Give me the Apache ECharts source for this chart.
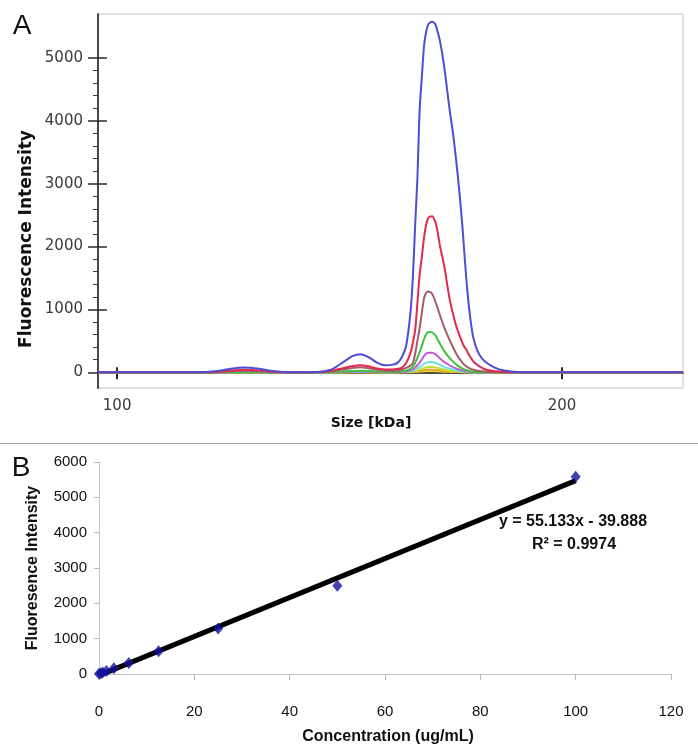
<!DOCTYPE html>
<html><head><meta charset="utf-8">
<script src="https://cdn.jsdelivr.net/npm/echarts@6/dist/echarts.min.js"></script>
<style>html,body{margin:0;padding:0;background:#fff}#c{width:698px;height:748px}</style>
</head><body><div id="c"></div>
<script>
// ---------- Panel A: electropherogram traces ----------
const sizes = [95.7,118,122,125,128.5,132,135,139,145,148,151,153,154.7,156.5,158.5,160.3,162,163,164,165,166,166.5,167,167.5,168,168.5,169,169.5,170,170.8,171.5,172,172.6,173.5,174.7,175.5,176.2,177,177.6,178,178.5,179,179.5,180.1,181,182,183.2,185,187,190,195,227.2];
const traceBlue    = [0,0,15,50,75,55,20,0,5,40,170,260,287,240,150,111,122,150,240,430,1000,1550,2350,3100,4170,4700,5200,5430,5540,5578,5540,5430,5260,4870,4200,3800,3380,2820,2330,1950,1480,1100,800,540,340,220,143,70,30,5,0,0];
const traceRed     = [0,0,5,25,40,30,10,0,3,20,70,100,110,95,60,45,45,55,70,150,320,480,680,1100,1550,1840,2150,2360,2460,2484,2400,2250,2000,1700,1180,930,740,580,470,410,360,290,230,170,115,70,35,15,5,0,0,0];
const traceBrown   = [0,0,3,15,25,15,5,0,2,15,50,70,80,65,40,25,25,30,45,70,110,150,300,500,700,950,1180,1270,1285,1250,1130,1030,900,720,520,400,300,210,155,125,95,70,55,40,25,15,8,3,0,0,0,0];
const traceGreen   = [0,0,0,5,8,5,0,0,0,5,15,22,25,20,12,8,8,10,15,25,60,90,150,230,320,420,530,610,640,635,590,530,450,340,230,170,125,85,60,45,32,22,15,10,5,2,0,0,0,0,0,0];
const traceMagenta = [0,0,0,2,4,2,0,0,0,2,8,11,12,10,6,4,4,5,8,13,30,45,75,112,155,205,260,298,312,310,288,258,220,165,112,83,61,42,30,22,16,11,7,5,2,1,0,0,0,0,0,0];
const traceCyan    = [0,0,0,0,2,0,0,0,0,1,4,5,6,5,3,2,2,3,4,7,15,24,40,60,82,108,136,157,164,163,151,136,116,87,59,44,32,22,16,12,8,6,4,2,1,0,0,0,0,0,0,0];
const traceLime    = [0,0,0,0,0,0,0,0,0,0,2,3,3,2,1,1,1,2,3,5,8,12,20,31,42,56,70,81,85,84,78,70,60,45,30,23,17,11,8,6,4,3,2,1,0,0,0,0,0,0,0,0];
const traceOrange  = [0,0,0,0,0,0,0,0,0,0,1,1,2,1,1,0,0,1,2,3,4,6,10,15,21,28,35,40,42,41,38,34,29,22,15,11,8,5,4,3,2,1,0,0,0,0,0,0,0,0,0,0];
const traceYellow  = [0,0,0,0,0,0,0,0,0,0,0,1,1,1,0,0,0,0,1,1,2,3,5,7,10,13,17,19,20,20,18,16,14,10,7,5,4,3,2,1,1,0,0,0,0,0,0,0,0,0,0,0];
const traceNames   = ['Yellow','Orange','Lime','Cyan','Magenta','Green','Brown','Red','Blue'];
const traceColors  = ['#e6dc2a','#e8a42c','#bfe03a','#70e2e2','#c45ad8','#3fc23f','#a35d6a','#e02a50','#4d4dd6'];
const traceValues  = [traceYellow,traceOrange,traceLime,traceCyan,traceMagenta,traceGreen,traceBrown,traceRed,traceBlue];
const aYMajor = [0,1000,2000,3000,4000,5000];
const aYMinor = [200,400,600,800,1200,1400,1600,1800,2200,2400,2600,2800,3200,3400,3600,3800,4200,4400,4600,4800];
const aXTicks = [100,200];

// ---------- Panel B: calibration ----------
const concentrations = [0,0.39,0.78,1.5625,3.125,6.25,12.5,25,50,100];
const intensities    = [5,20,42,85,165,313,642,1290,2500,5580];
const fitSlope = 55.133, fitIntercept = -39.888;
const fitRange = [0.8,100];
const bXTicks = [0,20,40,60,80,100,120];
const bYTicks = [0,1000,2000,3000,4000,5000,6000];

const chart = echarts.init(document.getElementById('c'), null, {renderer:'canvas'});
const fontA = 'DejaVu Sans', fontB = 'Liberation Sans, Arial';
const xMinA = 95.7, xMaxA = 227.2, yMinA = -250, yMaxA = 5700;
const plain = v => String(v);

const series = traceValues.map((vals, k) => ({
  type:'line', name: traceNames[k], xAxisIndex:0, yAxisIndex:0,
  data: sizes.map((s,i)=>[s, vals[i]]),
  smooth:0.3, symbol:'none', lineStyle:{color:traceColors[k], width:2}, z: 2+k, animation:false
}));
series.push({
  type:'line', xAxisIndex:2, yAxisIndex:3, symbol:'none', animation:false,
  data: fitRange.map(x=>[x, fitSlope*x + fitIntercept]),
  lineStyle:{color:'#000', width:5}, z:3
});
series.push({
  type:'scatter', xAxisIndex:2, yAxisIndex:3, animation:false,
  data: concentrations.map((c,i)=>[c, intensities[i]]),
  symbol:'diamond', symbolSize:[10,12], itemStyle:{color:'#12129c'}, z:5
});

const txt = (x,y,text,size,family,weight,rot,color) => ({
  type:'text', x, y, rotation: rot||0, z:50,
  style:{text, fontSize:size, fontFamily:family, fontWeight:weight||'normal', fill:color||'#111',
    align:'center', verticalAlign:'middle', textAlign:'center', textVerticalAlign:'middle'}
});

chart.setOption({
  backgroundColor:'#fff',
  animation:false,
  grid:[
    {left:98, top:14, width:585, height:374, show:true, borderColor:'#c4c4c4', borderWidth:1, backgroundColor:'#fff'},
    {left:99, top:462, width:572, height:212, show:false}
  ],
  xAxis:[
    {gridIndex:0, type:'value', min:xMinA, max:xMaxA, position:'bottom',
     axisLine:{show:true, lineStyle:{color:'#4a4a4a', width:2}},
     axisTick:{show:true, customValues:aXTicks, length:7, lineStyle:{color:'#2a2a2a', width:2}},
     axisLabel:{show:true, customValues:aXTicks, formatter:plain, margin:11, fontFamily:fontA, fontSize:15, color:'#3a3a3a'},
     splitLine:{show:false}},
    {gridIndex:0, type:'value', min:xMinA, max:xMaxA, position:'bottom',
     axisLine:{show:false}, axisTick:{show:true, inside:true, customValues:aXTicks, length:5, lineStyle:{color:'#2a2a2a', width:2}},
     axisLabel:{show:false}, splitLine:{show:false}},
    {gridIndex:1, type:'value', min:0, max:120, interval:20,
     axisLine:{show:true, lineStyle:{color:'#c0c0c0', width:1}},
     axisTick:{show:true, length:6, lineStyle:{color:'#b8b8b8'}},
     axisLabel:{show:true, margin:30, formatter:plain, fontFamily:fontB, fontSize:15, color:'#111', customValues:bXTicks},
     splitLine:{show:false}}
  ],
  yAxis:[
    {gridIndex:0, type:'value', min:yMinA, max:yMaxA, position:'left',
     axisLine:{show:true, lineStyle:{color:'#4a4a4a', width:2}},
     axisTick:{show:true, customValues:aYMajor, length:10, lineStyle:{color:'#2a2a2a', width:1.5}},
     axisLabel:{show:true, customValues:aYMajor, formatter:plain, margin:15, fontFamily:fontA, fontSize:15, color:'#3a3a3a'},
     splitLine:{show:false}},
    {gridIndex:0, type:'value', min:yMinA, max:yMaxA, position:'left',
     axisLine:{show:false}, axisTick:{show:true, inside:true, customValues:aYMajor, length:9, lineStyle:{color:'#2a2a2a', width:1.5}},
     axisLabel:{show:false}, splitLine:{show:false}},
    {gridIndex:0, type:'value', min:yMinA, max:yMaxA, position:'left',
     axisLine:{show:false}, axisTick:{show:true, customValues:aYMinor, length:5, lineStyle:{color:'#3a3a3a', width:1}},
     axisLabel:{show:false}, splitLine:{show:false}},
    {gridIndex:1, type:'value', min:0, max:6000, interval:1000, position:'left',
     axisLine:{show:true, lineStyle:{color:'#c4c4c4', width:1}},
     axisTick:{show:true, length:5, lineStyle:{color:'#b8b8b8'}},
     axisLabel:{show:true, margin:12, formatter:plain, fontFamily:fontB, fontSize:15, color:'#111', customValues:bYTicks},
     splitLine:{show:false}}
  ],
  series,
  graphic:[
    {type:'line', shape:{x1:0, y1:443.5, x2:698, y2:443.5}, style:{stroke:'#a8a8a8', lineWidth:1}, z:40},
    txt(22,26,'A',28,fontB,'normal'),
    txt(21,468,'B',28,fontB,'normal'),
    txt(27,239,'Fluorescence Intensity',17,fontA,'bold',Math.PI/2),
    txt(371,423,'Size [kDa]',14,fontA,'bold'),
    txt(33,568,'Fluoresence Intensity',16,fontB,'bold',Math.PI/2),
    txt(388,737,'Concentration (ug/mL)',16,fontB,'bold'),
    txt(573,522,'y = 55.133x - 39.888',16,fontB,'bold'),
    txt(574,545,'R\u00B2 = 0.9974',16,fontB,'bold')
  ]
});
</script></body></html>
